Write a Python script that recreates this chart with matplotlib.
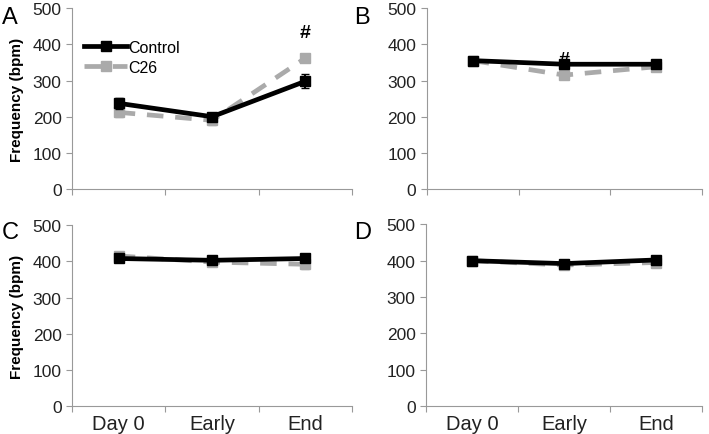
import numpy as np
import matplotlib
matplotlib.use('Agg')
import matplotlib.pyplot as plt
from matplotlib.lines import Line2D

plt.rcParams['font.family'] = ['Liberation Sans', 'DejaVu Sans']

days = ['Day 0', 'Early', 'End']
panels = ['A', 'B', 'C', 'D']

control = {'A': [237, 200, 298], 'B': [355, 345, 345],
           'C': [408, 403, 408], 'D': [400, 392, 402]}
control_err = {'A': [15, 10, 20], 'B': [5, 8, 6],
               'C': [6, 6, 8], 'D': [5, 6, 5]}
c26 = {'A': [212, 190, 362], 'B': [355, 315, 338],
       'C': [415, 398, 392], 'D': [400, 388, 395]}
c26_err = {'A': [12, 12, 10], 'B': [6, 8, 8],
           'C': [8, 8, 12], 'D': [5, 8, 8]}
sig = {'A': [None, None, '#'], 'B': [None, '#', None], 'C': [None] * 3, 'D': [None] * 3}
sig_y = {'A': [0, 0, 410], 'B': [0, 335, 0], 'C': [0] * 3, 'D': [0] * 3}

fig = plt.figure(figsize=(7.09, 4.35), dpi=100)
boxes = {'A': [0.1016, 0.563, 0.395, 0.416], 'B': [0.602, 0.563, 0.388, 0.416],
         'C': [0.1016, 0.064, 0.395, 0.416], 'D': [0.601, 0.064, 0.389, 0.418]}
letter_pos = {'A': (0.003, 0.985), 'B': (0.5, 0.985), 'C': (0.003, 0.49), 'D': (0.5, 0.49)}

x = np.arange(len(days))
for p in panels:
    ax = fig.add_axes(boxes[p])
    ax.errorbar(x, c26[p], yerr=c26_err[p], color='#aaaaaa', lw=3.4, ls=(0, (3.5, 2.5)),
                marker='s', ms=7, capsize=3, elinewidth=1.5, zorder=2)
    ax.errorbar(x, control[p], yerr=control_err[p], color='black', lw=3.4,
                marker='s', ms=7, capsize=3, elinewidth=1.5, zorder=3)
    for i, s in enumerate(sig[p]):
        if s:
            ax.text(x[i], sig_y[p][i], s, ha='center', va='bottom', fontsize=14, fontweight='bold')
    ax.set_xlim(-0.5, 2.5)
    ax.set_ylim(0, 500)
    ax.set_yticks(range(0, 501, 100))
    ax.set_xticks([-0.5, 0.5, 1.5, 2.5])
    ax.set_xticklabels([])
    for sp in ['top', 'right']:
        ax.spines[sp].set_visible(False)
    for sp in ['left', 'bottom']:
        ax.spines[sp].set_color('#999999')
    ax.tick_params(axis='both', colors='#999999', direction='out', length=4, labelsize=12.5,
                   labelcolor='#222222')
    if p in ('C', 'D'):
        ax.set_xticks(x, minor=True)
        ax.set_xticklabels(days, minor=True)
        ax.tick_params(axis='x', which='minor', length=0, labelsize=14.5, labelcolor='#222222', pad=6)
    if p in ('A', 'C'):
        ax.set_ylabel('Frequency (bpm)', fontsize=11, fontweight='bold', labelpad=6)
    if p == 'A':
        handles = [Line2D([], [], color='black', lw=3.4, marker='s', ms=7),
                   Line2D([], [], color='#aaaaaa', lw=3.4, ls=(0, (3.5, 2.5)), marker='s', ms=7)]
        ax.legend(handles, ['Control', 'C26'], loc='upper left', bbox_to_anchor=(0.02, 0.86),
                  frameon=False, fontsize=11.5, handlelength=2.7, handletextpad=0.05,
                  labelspacing=0.3, borderaxespad=0)
    fig.text(letter_pos[p][0], letter_pos[p][1], p, fontsize=17, va='top', ha='left')

fig.savefig('out.png', dpi=100)
